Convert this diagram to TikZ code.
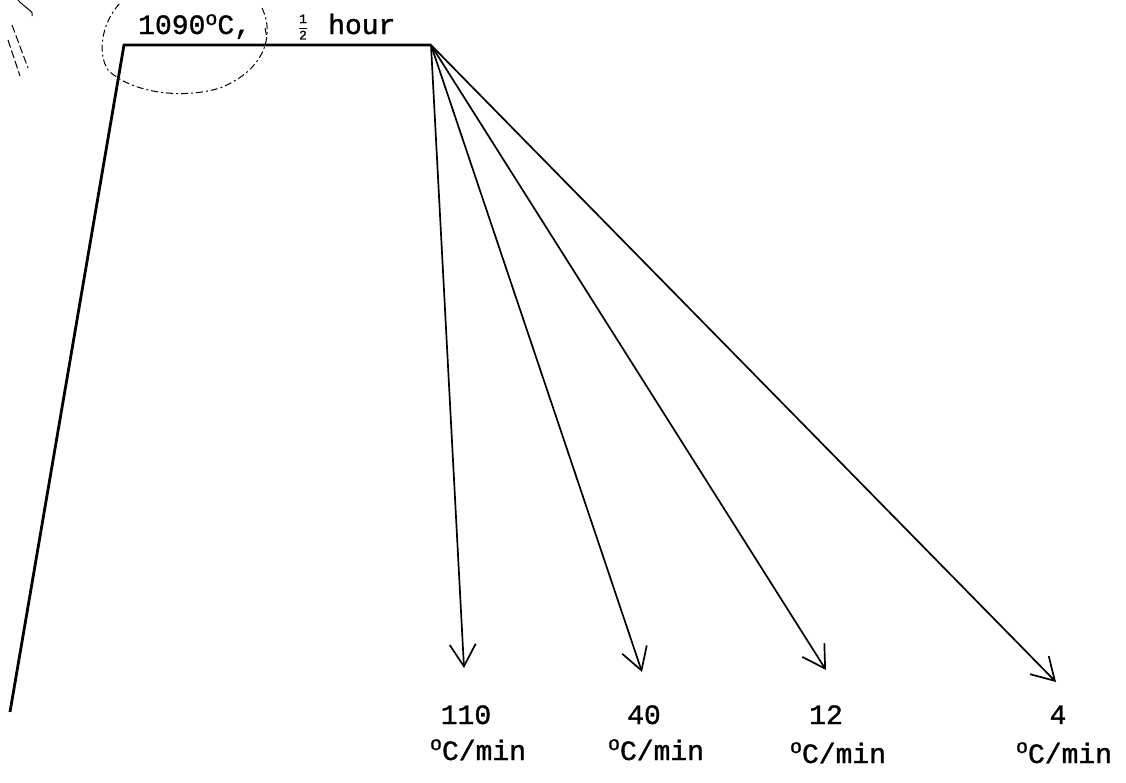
\documentclass[tikz,border=0pt]{standalone}
\usepackage{fontspec}
\setmainfont{Liberation Mono}[RawFeature={embolden=1.2}]
\usetikzlibrary{arrows.meta}
\begin{document}
\begin{tikzpicture}[x=1pt,y=-1pt,
  prof/.style={line width=2.8pt, line join=miter},
  rate/.style={line width=1.7pt, -{Straight Barb[length=22pt,width=26pt,line width=1.7pt]}},
  lab/.style={font=\fontsize{28}{32}\selectfont, inner sep=0pt},
  handmark/.style={line width=1pt, dash pattern=on 7pt off 3pt on 2pt off 3pt}]
\useasboundingbox (0,0) rectangle (1126,782);
\fill[white] (0,0) rectangle (1126,782);
% profile
\coordinate (start) at (10,712);
\coordinate (heat) at (124,45);
\coordinate (peak) at (431,45);
\draw[prof] (start) -- (heat) -- (peak);
% cooling rates
\coordinate (t110) at (464,668);
\coordinate (t40) at (642,672);
\coordinate (t12) at (826,670);
\coordinate (t4) at (1056,682);
\draw[rate] (peak) -- (t110);
\draw[rate] (peak) -- (t40);
\draw[rate] (peak) -- (t12);
\draw[rate] (peak) -- (t4);
% top labels
\node[lab, anchor=base west] (temp) at (138,34) {1090\raisebox{9pt}{\fontsize{20}{20}\selectfont o}C,};
\node[anchor=center, inner sep=0pt] (half) at (303,27) {\fontsize{13}{13}\selectfont$\displaystyle\frac{\mbox{1}}{\mbox{2}}$};
\node[lab, anchor=base west] (time) at (328,34) {hour};
% hand-drawn ellipse mark
\draw[handmark] (262,8) .. controls (275,35) and (265,70) .. (220,88)
  .. controls (180,100) and (130,92) .. (108,70)
  .. controls (98,55) and (100,25) .. (120,3);
\draw[handmark] (265,28) -- (267,38);
% stray marks at top left
\draw[line width=1pt, dash pattern=on 8pt off 3pt] (12,25) -- (28,68);
\draw[line width=1pt, dash pattern=on 8pt off 3pt] (8,40) -- (20,76);
\draw[line width=1pt] (18,0) .. controls (25,8) and (35,12) .. (32,16);
% rate labels
\node[lab, anchor=base] (n110) at (466,724) {110};
\node[lab, anchor=base] (u110) at (478,760) {\raisebox{10pt}{\fontsize{20}{20}\selectfont o}C/min};
\node[lab, anchor=base] (n40) at (644,724) {40};
\node[lab, anchor=base] (u40) at (656,760) {\raisebox{10pt}{\fontsize{20}{20}\selectfont o}C/min};
\node[lab, anchor=base] (n12) at (826,724) {12};
\node[lab, anchor=base] (u12) at (838,763) {\raisebox{10pt}{\fontsize{20}{20}\selectfont o}C/min};
\node[lab, anchor=base] (n4) at (1058,724) {4};
\node[lab, anchor=base] (u4) at (1064,763) {\raisebox{10pt}{\fontsize{20}{20}\selectfont o}C/min};
\end{tikzpicture}
\end{document}
